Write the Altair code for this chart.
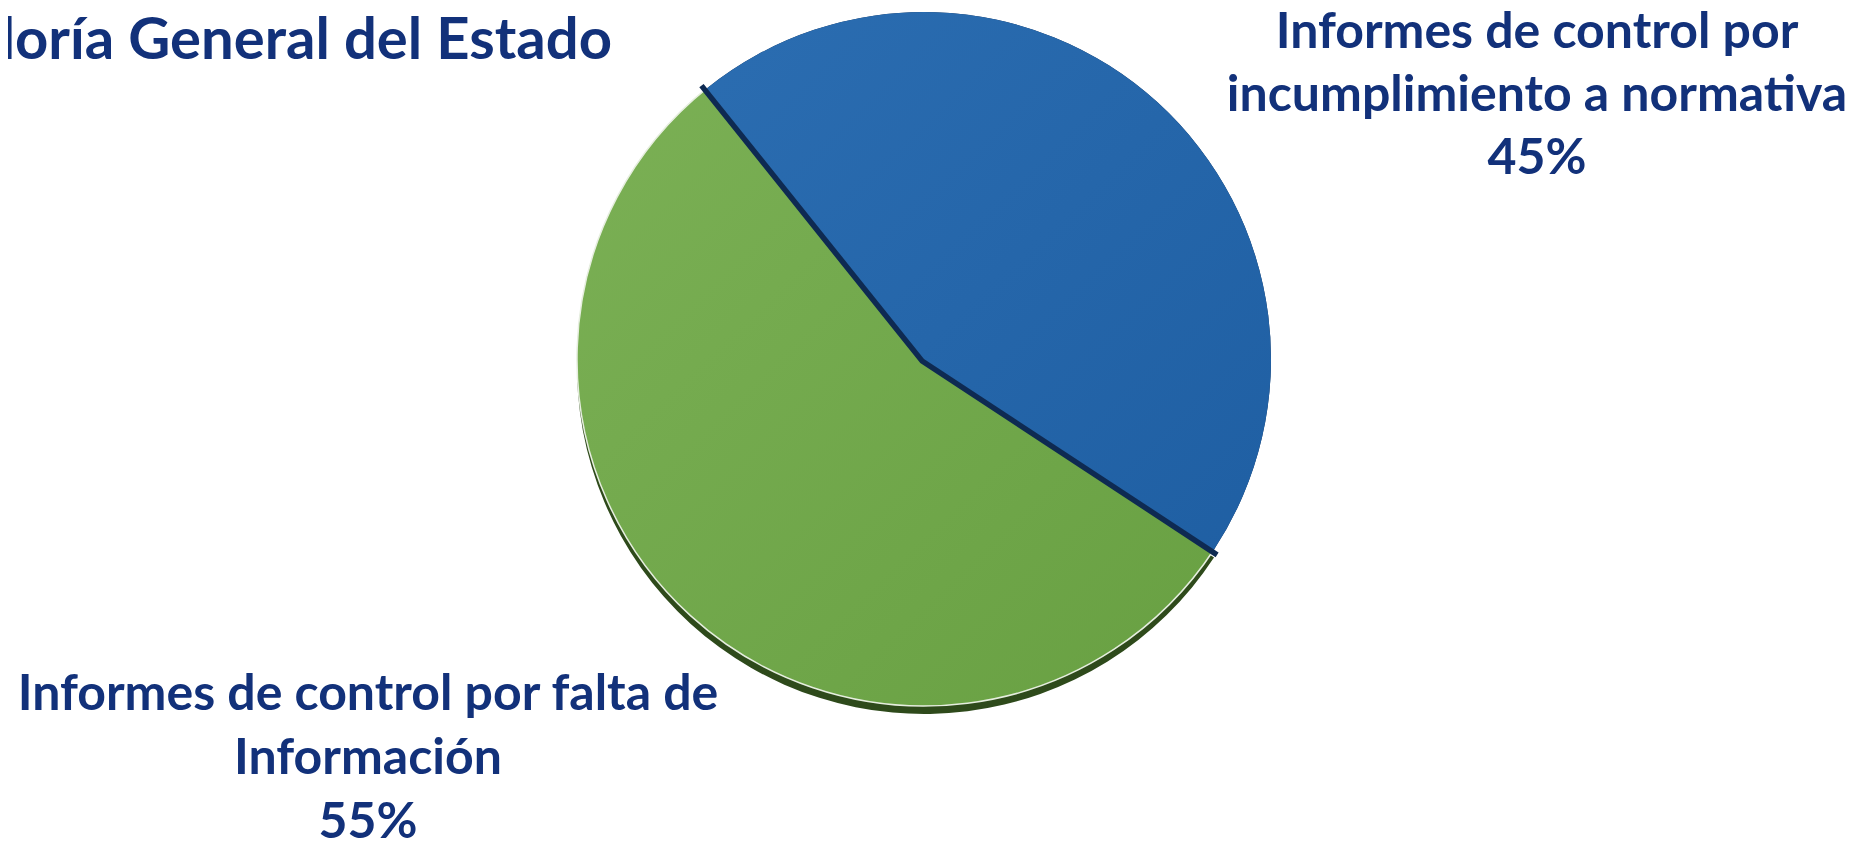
import math
import altair as alt
import pandas as pd

# ---- data -------------------------------------------------------------
categories = [
    "Informes de control por incumplimiento a normativa",
    "Informes de control por falta de Información",
]
values = [45, 55]
order = [0, 1]
label_lines = [
    ["Informes de control por", "incumplimiento a normativa", "45%"],
    ["Informes de control por falta de", "Información", "55%"],
]
title_text = "Contraloría General del Estado"

# ---- layout / style ----------------------------------------------------
W, H = 1846, 833
CX, CY, R = 916, 351, 347
START = math.radians(-38.7)
NAVY_TEXT = "#12317a"
FONT = "Lato"

df = pd.DataFrame({"cat": categories, "value": values, "order": order})

theta_scale = alt.Scale(domain=[0, 1], range=[START, START + 2 * math.pi])

base = alt.Chart(df).transform_stack(
    stack="value", groupby=[], as_=["v0", "v1"], offset="normalize",
    sort=[alt.SortField("order", order="ascending")],
)


def slice_layer(cat, y=CY, **mark_kw):
    return base.transform_filter(alt.datum.cat == cat).mark_arc(**mark_kw).encode(
        theta=alt.Theta("v0:Q", scale=theta_scale),
        theta2="v1:Q",
        x=alt.value(CX),
        y=alt.value(y),
    )


blue_grad = alt.LinearGradient(
    gradient="linear",
    stops=[alt.GradientStop(color="#2b6db1", offset=0),
           alt.GradientStop(color="#1f5fa3", offset=1)],
    x1=0, x2=1, y1=0, y2=1,
)
green_grad = alt.LinearGradient(
    gradient="linear",
    stops=[alt.GradientStop(color="#7bb055", offset=0),
           alt.GradientStop(color="#68a042", offset=1)],
    x1=0, x2=1, y1=0, y2=1,
)

shadow = slice_layer(categories[1], y=CY + 8, radius=R, fill="#2e4a1b")
green = slice_layer(categories[1], radius=R, fill=green_grad,
                    stroke="#e6eedf", strokeWidth=1.5)
navy = slice_layer(categories[0], radius=R, fill="#0e2a52",
                   stroke="#0e2a52", strokeWidth=11, strokeJoin="miter")
ring = slice_layer(categories[0], innerRadius=R, outerRadius=R + 9, fill="white")
blue = slice_layer(categories[0], radius=R, fill=blue_grad)


def text_layer(lines, x, y, size=50, lh=64, align="center"):
    d = pd.DataFrame({"t": ["\n".join(lines)]})
    return alt.Chart(d).mark_text(
        align=align, baseline="alphabetic", font=FONT, fontWeight="bold",
        fontSize=size, lineHeight=lh, lineBreak="\n", color=NAVY_TEXT,
    ).encode(x=alt.value(x), y=alt.value(y), text="t:N")


title = text_layer([title_text], 604, 51, size=58, align="right")
lab_right = text_layer(label_lines[0], 1529, 40, lh=63)
lab_left = text_layer(label_lines[1], 360, 702)

chart = alt.layer(
    shadow, green, navy, ring, blue, title, lab_right, lab_left
).properties(
    width=W, height=H, padding=0, autosize="none", background="white"
).configure_view(stroke=None)

chart.save("out.html", embed_options={"renderer": "svg", "actions": False})
